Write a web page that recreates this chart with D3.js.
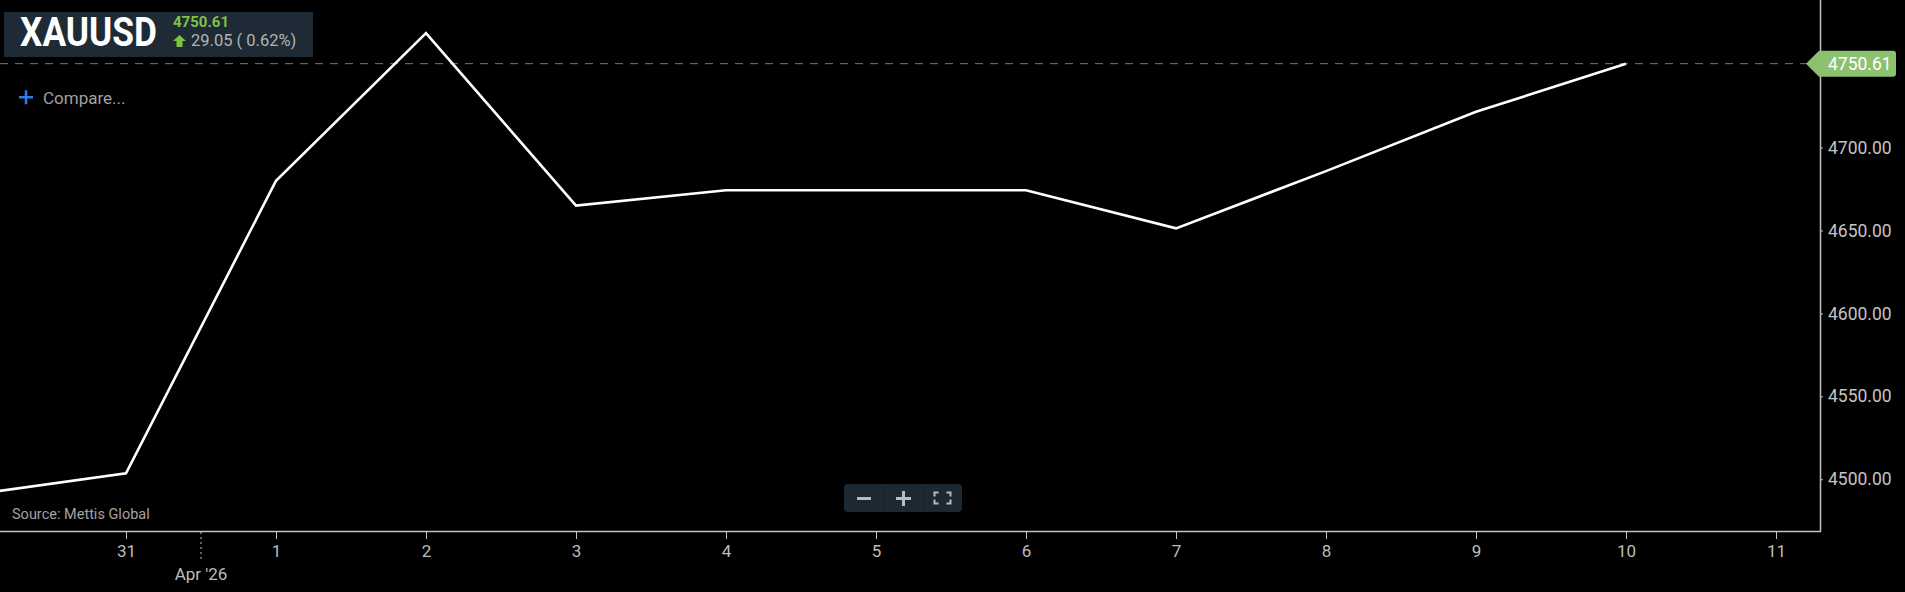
<!DOCTYPE html>
<html><head><meta charset="utf-8">
<script src="https://cdn.jsdelivr.net/npm/d3@7"></script>
<style>
html,body{margin:0;padding:0;background:#000;overflow:hidden;}
svg{display:block;font-family:Roboto,"Noto Sans",sans-serif;}
</style></head>
<body>
<svg id="chart" width="1905" height="592"></svg>
<script>
// ---- data ----
const dates = ["2026-03-30","2026-03-31","2026-04-01","2026-04-02","2026-04-03","2026-04-04","2026-04-05","2026-04-06","2026-04-07","2026-04-08","2026-04-09","2026-04-10"];
const values = [4491.0, 4503.6, 4680.0, 4769.0, 4665.0, 4674.3, 4674.3, 4674.3, 4651.3, 4685.8, 4721.56, 4750.61];
const yTicks = [4500, 4550, 4600, 4650, 4700];
const xTickDates = ["2026-03-31","2026-04-01","2026-04-02","2026-04-03","2026-04-04","2026-04-05","2026-04-06","2026-04-07","2026-04-08","2026-04-09","2026-04-10","2026-04-11"];
const symbol = "XAUUSD";
const lastPrice = 4750.61;
const change = "29.05 ( 0.62%)";
const monthLabel = "Apr '26";
const sourceText = "Source: Mettis Global";

const parse = d3.utcParse("%Y-%m-%d");
const data = dates.map((d,i)=>({date:parse(d), value:values[i]}));

const svg = d3.select("#chart");
const axisX = 1820, axisY = 531;

const x = d3.scaleUtc().domain([parse("2026-03-31"), parse("2026-04-11")]).range([126, 1776]);
const y = d3.scaleLinear().domain([4468.8, 4789]).range([axisY, 0]);

// zoom controls
const zc = svg.append("g");
zc.append("rect").attr("x",844).attr("y",484).attr("width",118).attr("height",28).attr("rx",4).attr("fill","#1d2932");
zc.append("line").attr("x1",883.5).attr("x2",883.5).attr("y1",486).attr("y2",510).attr("stroke","#16212a").attr("stroke-width",1);
zc.append("line").attr("x1",923.5).attr("x2",923.5).attr("y1",486).attr("y2",510).attr("stroke","#16212a").attr("stroke-width",1);
const ic = "#b5bcc2";
zc.append("rect").attr("x",857).attr("y",497).attr("width",14).attr("height",3).attr("fill",ic);
zc.append("rect").attr("x",896).attr("y",497).attr("width",15).attr("height",3).attr("fill",ic);
zc.append("rect").attr("x",902).attr("y",491).attr("width",3).attr("height",15).attr("fill",ic);
const fs = [[934.5,492.5,1,1],[950.5,492.5,-1,1],[934.5,503.5,1,-1],[950.5,503.5,-1,-1]];
fs.forEach(([cx,cy,sx,sy])=>{
  zc.append("path").attr("d",`M${cx},${cy+sy*4}V${cy}H${cx+sx*4}`).attr("fill","none").attr("stroke",ic).attr("stroke-width",2);
});

// source text
svg.append("text").attr("x",12).attr("y",519).attr("fill","#a3a3a3").attr("font-size",14.5).text(sourceText);

// last price dashed line
svg.append("line").attr("x1",0).attr("x2",axisX).attr("y1",y(lastPrice)).attr("y2",y(lastPrice))
  .attr("stroke","#62895a").attr("stroke-width",1).attr("stroke-dasharray","8,7");

// price line
const line = d3.line().x(d=>x(d.date)).y(d=>y(d.value));
svg.append("path").datum(data).attr("d",line).attr("fill","none").attr("stroke","#ffffff").attr("stroke-width",2.6).attr("stroke-linejoin","miter");

// x axis
const xAxis = d3.axisBottom(x).tickValues(xTickDates.map(parse)).tickFormat(d3.utcFormat("%-d")).tickSize(8).tickPadding(6);
const gx = svg.append("g").attr("transform",`translate(0,${axisY})`).call(xAxis);
gx.select(".domain").remove();
gx.selectAll(".tick line").attr("stroke","#c4c4c4");
gx.selectAll(".tick text").attr("fill","#bdbdbd").attr("font-size",17).attr("font-family","Roboto");
svg.append("line").attr("x1",0).attr("x2",axisX+1).attr("y1",axisY+0.5).attr("y2",axisY+0.5).attr("stroke","#c4c4c4").attr("stroke-width",1.5);

// month separator
const mx = (x(parse("2026-03-31")) + x(parse("2026-04-01")))/2;
svg.append("line").attr("x1",mx).attr("x2",mx).attr("y1",axisY+1).attr("y2",axisY+29)
  .attr("stroke","#c4c4c4").attr("stroke-width",1).attr("stroke-dasharray","2,3");
svg.append("text").attr("x",mx).attr("y",580).attr("text-anchor","middle").attr("fill","#bdbdbd").attr("font-size",17).text(monthLabel);

// y axis
const yAxis = d3.axisRight(y).tickValues(yTicks).tickFormat(d3.format(".2f")).tickSize(3).tickPadding(5);
const gy = svg.append("g").attr("transform",`translate(${axisX},0)`).call(yAxis);
gy.select(".domain").remove();
gy.selectAll(".tick line").attr("stroke","#c4c4c4");
gy.selectAll(".tick text").attr("fill","#c4c4c4").attr("font-size",17.5).attr("font-family","Roboto");
svg.append("line").attr("x1",axisX+0.5).attr("x2",axisX+0.5).attr("y1",0).attr("y2",axisY+1).attr("stroke","#c4c4c4").attr("stroke-width",1.5);

// last price label
const ly = y(lastPrice);
svg.append("path").attr("d",`M1806,${ly} L1819,${ly-13} H1893 Q1896,${ly-13} 1896,${ly-10} V${ly+10} Q1896,${ly+13} 1893,${ly+13} H1819 Z`).attr("fill","#8cc26f");
svg.append("text").attr("x",1828).attr("y",ly+6).attr("fill","#ffffff").attr("font-size",17.5).text(d3.format(".2f")(lastPrice));

// title box
svg.append("rect").attr("x",4).attr("y",12).attr("width",309).attr("height",45).attr("fill","#1e2a35");
svg.append("text").attr("x",20).attr("y",46).attr("fill","#ffffff").attr("font-size",40).attr("font-weight","bold")
  .attr("textLength",137).attr("lengthAdjust","spacingAndGlyphs").text(symbol);
svg.append("text").attr("x",173).attr("y",27).attr("fill","#7dc243").attr("font-size",15).attr("font-weight","bold").text(d3.format(".2f")(lastPrice));
svg.append("path").attr("d","M179.5,35 L186,41 H182.5 V47 H176.5 V41 H173 Z").attr("fill","#7dc243");
svg.append("text").attr("x",191).attr("y",46).attr("fill","#b3b3b3").attr("font-size",16.5).text(change);

// compare
svg.append("rect").attr("x",19).attr("y",96).attr("width",14).attr("height",2.5).attr("fill","#2f7be6");
svg.append("rect").attr("x",24.75).attr("y",90.25).attr("width",2.5).attr("height",14).attr("fill","#2f7be6");
svg.append("text").attr("x",43).attr("y",104).attr("fill","#a0a0a0").attr("font-size",17).text("Compare...");
</script>
</body></html>
